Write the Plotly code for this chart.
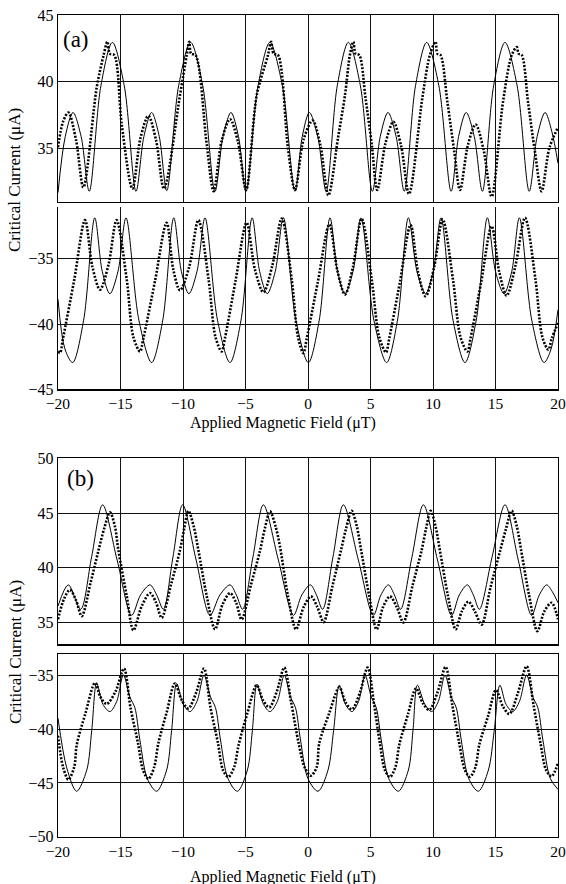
import plotly.graph_objects as go

# ---------------- data ----------------
# (a) positive branch, theory (thin line)
A_POS_THEORY = [(-20.0, 31.7), (-19.42, 35.9), (-18.8, 37.7), (-18.15, 35.9), (-17.5, 31.8),
                (-16.57, 39.7), (-15.65, 42.95), (-14.7, 39.7), (-13.76, 31.8), (-13.13, 35.9),
                (-12.51, 37.7), (-11.9, 35.9), (-11.3, 31.85), (-10.35, 39.7), (-9.39, 42.95),
                (-8.42, 39.7), (-7.44, 31.8), (-6.8, 35.9), (-6.16, 37.7), (-5.56, 35.9),
                (-4.96, 31.8), (-4.0, 39.7), (-3.05, 42.95), (-2.05, 39.7), (-1.04, 31.8),
                (-0.46, 35.9), (0.11, 37.7), (0.78, 35.9), (1.45, 31.8), (2.34, 39.7),
                (3.23, 42.95), (4.19, 39.7), (5.15, 31.8), (5.78, 35.9), (6.4, 37.7),
                (7.05, 35.9), (7.7, 31.8), (8.6, 39.7), (9.49, 42.95), (10.47, 39.7),
                (11.45, 31.8), (12.05, 35.9), (12.65, 37.7), (13.3, 35.9), (13.95, 31.8),
                (14.85, 39.7), (15.76, 42.95), (16.73, 39.7), (17.7, 31.8), (18.33, 35.9),
                (18.97, 37.7), (19.5, 36.3), (20.0, 33.9)]

# (a) positive branch, measurement (dotted)
A_POS_DATA = [(-20.0, 35.1), (-19.6, 37.0), (-19.17, 37.7), (-18.55, 35.6), (-17.97, 32.1),
              (-16.9, 39.6), (-16.35, 42.0), (-16.05, 43.0), (-15.85, 42.1), (-15.5, 42.0),
              (-14.9, 36.8), (-14.05, 32.0), (-13.4, 35.8), (-12.77, 37.45), (-12.15, 35.6),
              (-11.52, 32.0), (-10.24, 39.0), (-9.7, 42.0), (-9.5, 43.0), (-9.35, 42.1),
              (-9.0, 42.0), (-8.1, 35.3), (-7.55, 31.8), (-6.9, 35.6), (-6.24, 37.2),
              (-5.6, 35.5), (-4.95, 31.9), (-4.1, 39.0), (-3.2, 42.0), (-2.95, 43.0),
              (-2.75, 42.1), (-2.4, 42.0), (-1.6, 35.0), (-1.04, 31.9), (-0.35, 35.7),
              (0.37, 37.1), (1.0, 35.2), (1.63, 31.5), (2.4, 35.8), (2.96, 39.0),
              (3.35, 42.0), (3.63, 43.0), (3.8, 42.1), (4.1, 42.0), (4.6, 38.8),
              (5.1, 35.3), (5.54, 31.9), (6.2, 35.4), (6.83, 37.0), (7.45, 35.2),
              (8.08, 31.6), (9.15, 38.8), (9.75, 42.0), (10.2, 43.0), (10.35, 42.1),
              (10.6, 42.0), (11.15, 38.5), (11.7, 34.8), (12.16, 31.9), (12.8, 35.3),
              (13.41, 36.8), (14.05, 34.9), (14.69, 31.4), (15.6, 38.5), (16.3, 42.0),
              (16.7, 42.6), (16.85, 42.1), (17.1, 42.0), (17.6, 38.5), (18.15, 34.8),
              (18.69, 31.8), (19.3, 35.0), (20.0, 36.6)]

# (a) negative branch, theory
A_NEG_THEORY = [(-20.0, -38.1), (-19.45, -41.9), (-18.83, -42.95), (-17.95, -39.7), (-17.06, -31.85),
                (-16.46, -35.96), (-15.85, -37.67), (-15.2, -35.96), (-14.56, -31.85), (-13.53, -39.7),
                (-12.51, -42.95), (-11.62, -39.7), (-10.74, -31.85), (-10.13, -35.96), (-9.53, -37.67),
                (-8.88, -35.96), (-8.24, -31.85), (-7.24, -39.7), (-6.24, -42.95), (-5.36, -39.7),
                (-4.47, -31.85), (-3.87, -35.96), (-3.26, -37.67), (-2.62, -35.96), (-1.97, -31.85),
                (-0.97, -39.7), (0.03, -42.95), (0.9, -39.7), (1.76, -31.85), (2.36, -35.96),
                (2.96, -37.67), (3.6, -35.96), (4.24, -31.85), (5.27, -39.7), (6.29, -42.95),
                (7.16, -39.7), (8.03, -31.85), (8.72, -35.96), (9.41, -37.67), (10.02, -35.96),
                (10.64, -31.85), (11.6, -39.7), (12.56, -42.95), (13.46, -39.7), (14.35, -31.85),
                (15.0, -35.96), (15.68, -37.67), (16.3, -35.96), (16.91, -31.85), (17.9, -39.7),
                (18.88, -42.95), (19.45, -41.9), (20.0, -38.9)]

# (a) negative branch, measurement
A_NEG_DATA = [(-20.0, -42.1), (-19.84, -42.2), (-19.6, -41.1), (-18.7, -36.6), (-17.84, -32.03),
              (-17.25, -35.6), (-16.64, -37.36), (-15.95, -35.4), (-15.31, -32.03), (-14.5, -36.6),
              (-13.97, -41.0), (-13.44, -42.1), (-13.17, -41.1), (-12.24, -36.7), (-11.31, -32.23),
              (-10.78, -35.8), (-10.24, -37.41), (-9.5, -35.6), (-8.77, -32.03), (-7.95, -36.6),
              (-7.4, -41.0), (-6.91, -42.1), (-6.65, -41.1), (-5.8, -36.7), (-4.91, -32.23),
              (-4.25, -35.8), (-3.57, -37.56), (-2.85, -35.5), (-2.1, -31.9), (-1.3, -36.6),
              (-0.8, -41.0), (-0.37, -42.23), (-0.1, -41.1), (0.8, -36.7), (1.71, -32.36),
              (2.35, -35.9), (2.96, -37.74), (3.6, -35.6), (4.29, -31.92), (5.1, -36.6),
              (5.7, -41.0), (6.24, -42.17), (6.5, -41.1), (7.35, -36.8), (8.21, -32.4),
              (8.8, -36.0), (9.41, -37.87), (10.1, -35.6), (10.77, -31.97), (11.6, -36.6),
              (12.2, -41.0), (12.75, -42.1), (13.0, -41.1), (13.85, -36.8), (14.69, -32.5),
              (15.3, -36.0), (15.89, -37.82), (16.6, -35.5), (17.36, -31.85), (18.2, -36.6),
              (18.75, -41.0), (19.23, -41.97), (19.5, -41.1), (20.0, -39.92)]

# (b) positive branch, theory
B_POS_THEORY = [(-20.0, 36.5), (-19.17, 38.43), (-18.19, 36.2), (-17.31, 41.0), (-16.43, 45.75),
                (-15.27, 40.7), (-14.11, 35.65), (-13.4, 37.5), (-12.64, 38.43), (-12.1, 37.5),
                (-11.57, 36.2), (-10.8, 41.0), (-10.03, 45.75), (-8.95, 40.7), (-7.84, 35.65),
                (-7.05, 37.5), (-6.24, 38.43), (-5.73, 37.5), (-5.23, 36.2), (-4.4, 41.0),
                (-3.57, 45.75), (-2.37, 40.7), (-1.16, 35.65), (-0.5, 37.5), (0.19, 38.43),
                (0.68, 37.5), (1.17, 36.2), (2.0, 41.0), (2.83, 45.75), (4.03, 40.7),
                (5.23, 35.65), (5.83, 37.5), (6.43, 38.43), (6.92, 37.5), (7.41, 36.2),
                (8.32, 41.0), (9.23, 45.75), (10.36, 40.7), (11.49, 35.65), (12.1, 37.5),
                (12.75, 38.43), (13.23, 37.5), (13.71, 36.2), (14.73, 41.0), (15.76, 45.75),
                (16.82, 40.7), (17.89, 35.65), (18.5, 37.5), (19.09, 38.43), (19.55, 37.8),
                (20.0, 36.8)]

# (b) positive branch, measurement
B_POS_DATA = [(-20.0, 35.3), (-19.5, 37.2), (-19.04, 37.98), (-18.55, 37.0), (-18.1, 35.57),
              (-17.4, 38.6), (-16.8, 41.4), (-16.3, 43.6), (-15.84, 45.06), (-15.45, 43.8),
              (-15.17, 41.6), (-14.5, 37.4), (-13.97, 34.28), (-13.3, 36.5), (-12.64, 37.68),
              (-12.15, 36.8), (-11.71, 35.42), (-10.95, 38.5), (-10.24, 41.6), (-9.9, 43.6),
              (-9.57, 45.2), (-9.15, 43.8), (-8.77, 41.6), (-8.1, 37.4), (-7.44, 34.37),
              (-6.85, 36.6), (-6.24, 37.68), (-5.75, 36.8), (-5.31, 35.27), (-4.55, 38.5),
              (-3.85, 41.5), (-3.45, 43.6), (-3.04, 45.15), (-2.6, 43.8), (-2.25, 42.0),
              (-1.6, 37.4), (-0.96, 34.37), (-0.35, 36.4), (0.24, 37.38), (0.75, 36.4),
              (1.25, 35.03), (1.95, 38.3), (2.64, 41.6), (3.05, 43.6), (3.49, 45.2),
              (3.9, 43.8), (4.25, 41.6), (4.9, 37.4), (5.49, 34.37), (6.0, 36.4),
              (6.56, 37.38), (7.1, 36.4), (7.63, 35.0), (8.35, 38.3), (9.09, 41.6),
              (9.45, 43.6), (9.81, 45.2), (10.2, 43.8), (10.55, 41.6), (11.2, 37.4),
              (11.81, 34.37), (12.3, 36.0), (12.83, 36.9), (13.35, 36.0), (13.89, 34.8),
              (14.6, 38.2), (15.36, 41.5), (15.85, 43.6), (16.29, 45.2), (16.7, 43.8),
              (17.05, 41.6), (17.7, 37.4), (18.35, 34.2), (18.9, 36.0), (19.49, 36.8),
              (20.0, 35.3)]

# (b) negative branch, theory
B_NEG_THEORY = [(-20.0, -38.98), (-19.3, -43.6), (-18.51, -45.77), (-17.7, -43.8), (-17.3, -40.1),
                (-16.91, -35.7), (-16.4, -37.7), (-15.84, -38.36), (-15.3, -37.4), (-14.77, -34.97),
                (-14.25, -37.0), (-13.85, -38.0), (-13.45, -41.0), (-12.85, -44.6), (-12.11, -45.77),
                (-11.31, -43.8), (-10.91, -40.1), (-10.51, -35.74), (-9.97, -37.7), (-9.44, -38.36),
                (-8.88, -37.4), (-8.32, -34.97), (-7.8, -37.0), (-7.4, -38.0), (-7.0, -41.0),
                (-6.4, -44.6), (-5.65, -45.77), (-4.85, -43.8), (-4.45, -40.1), (-4.08, -35.8),
                (-3.55, -37.7), (-3.04, -38.36), (-2.45, -37.4), (-1.9, -34.97), (-1.4, -37.0),
                (-1.0, -38.0), (-0.6, -41.0), (0.0, -44.6), (0.8, -45.77), (1.6, -43.8),
                (2.05, -40.1), (2.5, -35.9), (3.0, -37.7), (3.52, -38.36), (4.05, -37.4),
                (4.56, -34.97), (5.06, -37.0), (5.46, -38.0), (5.86, -41.0), (6.46, -44.6),
                (7.23, -45.77), (8.03, -43.8), (8.4, -40.1), (8.75, -35.9), (9.35, -37.7),
                (9.89, -38.36), (10.43, -37.4), (10.96, -34.97), (11.46, -37.0), (11.86, -38.0),
                (12.26, -41.0), (12.86, -44.6), (13.63, -45.77), (14.43, -43.8), (14.9, -40.1),
                (15.35, -35.9), (15.85, -37.7), (16.38, -38.36), (16.92, -37.4), (17.49, -34.97),
                (17.99, -37.0), (18.39, -38.0), (18.79, -41.0), (19.39, -44.6), (20.0, -45.6)]

# (b) negative branch, measurement
B_NEG_DATA = [(-20.0, -40.6), (-19.6, -43.5), (-19.17, -44.69), (-18.7, -43.5), (-18.5, -41.45),
              (-17.8, -38.5), (-17.04, -35.68), (-16.6, -37.0), (-16.11, -37.65), (-15.4, -36.5),
              (-14.72, -34.35), (-14.2, -38.0), (-13.6, -41.3), (-13.2, -43.8), (-12.77, -44.63),
              (-12.3, -43.5), (-11.97, -41.3), (-11.3, -38.4), (-10.65, -35.74), (-10.1, -37.3),
              (-9.57, -38.06), (-8.95, -36.6), (-8.32, -34.35), (-7.8, -38.0), (-7.2, -41.3),
              (-6.8, -43.8), (-6.37, -44.44), (-5.9, -43.5), (-5.55, -41.45), (-4.85, -38.5),
              (-4.11, -35.9), (-3.6, -37.3), (-3.09, -37.96), (-2.5, -36.5), (-1.9, -34.26),
              (-1.35, -37.5), (-0.75, -41.3), (-0.25, -43.6), (0.24, -44.32), (0.7, -43.5),
              (0.9, -41.3), (1.7, -38.5), (2.51, -36.1), (3.0, -37.5), (3.52, -38.15),
              (4.15, -36.6), (4.77, -34.26), (5.3, -37.8), (5.75, -41.3), (6.15, -43.8),
              (6.56, -44.44), (7.0, -43.5), (7.3, -41.45), (8.0, -38.6), (8.64, -36.2),
              (9.2, -37.6), (9.71, -38.2), (10.35, -36.6), (11.01, -34.2), (11.55, -37.8),
              (12.1, -41.3), (12.55, -43.8), (12.96, -44.44), (13.4, -43.5), (13.7, -41.45),
              (14.4, -38.8), (15.04, -36.36), (15.6, -37.9), (16.11, -38.58), (16.8, -36.6),
              (17.49, -34.14), (18.05, -37.8), (18.6, -41.3), (19.05, -43.8), (19.49, -44.38),
              (20.0, -43.15)]

X_RANGE = [-20, 20]
Y_RANGES = {"a_pos": [31, 45], "a_neg": [-45, -31], "b_pos": [33, 50], "b_neg": [-50, -33]}
X_TITLE = "Applied Magnetic Field (\u03bcT)"
Y_TITLE = "Critical Current (\u03bcA)"
PANEL_LABELS = ["(a)", "(b)"]

# ---------------- figure ----------------
W, H = 566, 884
FONT = "Liberation Serif"

def py(p):  # pixel from top -> paper fraction
    return 1 - p / H

x_dom = [58 / W, 558 / W]
# key, theory, data, (top px, bottom px), show x labels, draw top frame line
panels = [
    ("a_pos", A_POS_THEORY, A_POS_DATA, (15, 202), False, True),
    ("a_neg", A_NEG_THEORY, A_NEG_DATA, (206.7, 389.3), True, False),
    ("b_pos", B_POS_THEORY, B_POS_DATA, (458.3, 644.3), False, True),
    ("b_neg", B_NEG_THEORY, B_NEG_DATA, (654, 836.7), True, True),
]

fig = go.Figure()
layout = dict(width=W, height=H,
              margin=dict(l=0, r=0, t=0, b=0, pad=0, autoexpand=False),
              paper_bgcolor="white", plot_bgcolor="white", showlegend=False,
              hovermode=False,
              font=dict(family=FONT, size=16, color="black"))

for i, (key, theory, data, (ptop, pbot), show_x, top_line) in enumerate(panels):
    n = "" if i == 0 else str(i + 1)
    xa, ya = "x" + n, "y" + n
    tx, ty = zip(*theory)
    dx, dy = zip(*data)
    fig.add_trace(go.Scatter(x=tx, y=ty, xaxis=xa, yaxis=ya, mode="lines",
                             line=dict(color="black", width=1, shape="spline", smoothing=0.9),
                             hoverinfo="skip"))
    fig.add_trace(go.Scatter(x=dx, y=dy, xaxis=xa, yaxis=ya, mode="lines",
                             line=dict(color="black", width=2.6, shape="spline", smoothing=0.9,
                                       dash="2px,1.6px"),
                             hoverinfo="skip"))
    layout["xaxis" + n] = dict(domain=x_dom, range=X_RANGE, anchor=ya, dtick=5, tick0=0,
                               showgrid=True, gridcolor="#111", gridwidth=1, zeroline=False,
                               showline=True, mirror=top_line, linecolor="black", linewidth=1.2,
                               ticks="", showticklabels=show_x, automargin=False,
                               ticklabeloverflow="allow", fixedrange=True,
                               tickfont=dict(family=FONT, size=15.5, color="black"))
    layout["yaxis" + n] = dict(domain=[py(pbot), py(ptop)], range=Y_RANGES[key], anchor=xa,
                               dtick=5, tick0=0, showgrid=True, gridcolor="#111", gridwidth=1,
                               zeroline=False, showline=True, mirror=True, linecolor="black",
                               linewidth=1.2, ticks="", automargin=False,
                               ticklabeloverflow="allow", fixedrange=True,
                               tickfont=dict(family=FONT, size=16, color="black"))

ann = []
for yc in (422.7, 876.7):
    ann.append(dict(text=X_TITLE, x=283 / W, y=py(yc), xref="paper", yref="paper",
                    showarrow=False, xanchor="center", yanchor="middle",
                    font=dict(family=FONT, size=16, color="black")))
for yc in (180, 652):
    ann.append(dict(text=Y_TITLE, x=15 / W, y=py(yc), xref="paper", yref="paper",
                    showarrow=False, xanchor="center", yanchor="middle", textangle=-90,
                    font=dict(family=FONT, size=17, color="black")))
for lab, (xc, yc) in zip(PANEL_LABELS, [(76, 40), (80, 479)]):
    ann.append(dict(text=lab, x=xc / W, y=py(yc), xref="paper", yref="paper",
                    showarrow=False, xanchor="center", yanchor="middle",
                    font=dict(family=FONT, size=23, color="black")))
layout["annotations"] = ann

fig.update_layout(**layout)
fig.write_html("out.html", config={"displayModeBar": False, "staticPlot": True},
               post_script="document.body.style.margin='0px';document.body.style.padding='0px';")
